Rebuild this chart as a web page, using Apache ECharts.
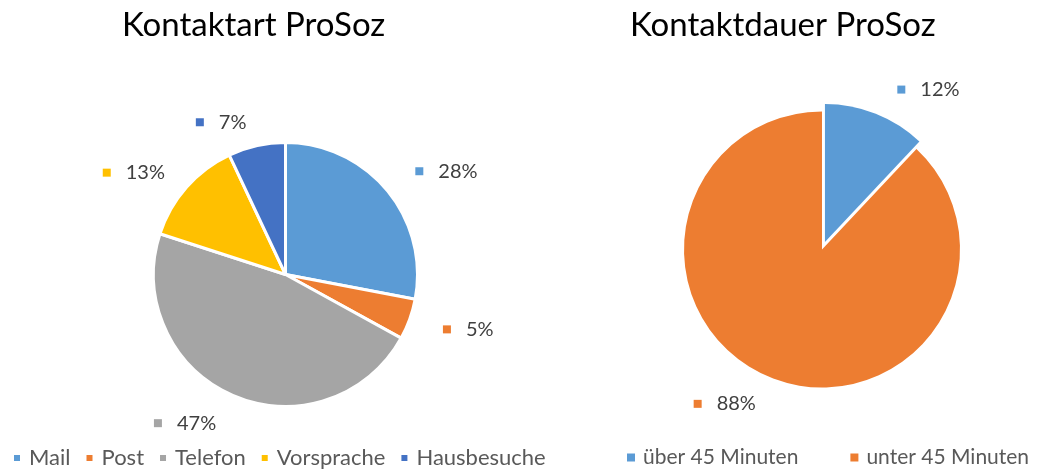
<!DOCTYPE html>
<html>
<head>
<meta charset="utf-8">
<script src="https://cdn.jsdelivr.net/npm/echarts@6/dist/echarts.min.js"></script>
<style>
  html, body { margin: 0; background: #fff; }
  #chart { width: 1038px; height: 470px; }
</style>
</head>
<body>
<div id="chart"></div>
<script>
// Kontaktart ProSoz
const artNames = ['Mail', 'Post', 'Telefon', 'Vorsprache', 'Hausbesuche']
const artValues = [28, 5, 47, 13, 7]
const artColors = ['#5B9BD5', '#ED7D31', '#A5A5A5', '#FFC000', '#4472C4']

// Kontaktdauer ProSoz
const dauerNames = ['über 45 Minuten', 'unter 45 Minuten']
const dauerValues = [12, 88]
const dauerColors = ['#5B9BD5', '#ED7D31']

const font = 'Lato'
const myChart = echarts.init(document.getElementById('chart'))

// how far each label sits from the pie edge
const artLabelLen = [30, 30, 30, 22, 24]
const dauerLabelLen = [26, 28]
const dauerLabelShift = [7, 0]

function labelFor(color) {
  return {
    formatter: p => '{sq|}{v|' + p.value + '%}',
    rich: {
      sq: { width: 8, height: 8, backgroundColor: color },
      v: { fontSize: 20, color: '#404040', fontFamily: font, padding: [0, 0, 0, 15] },
    },
  }
}

const artData = artNames.map((name, i) => ({
  name,
  value: artValues[i],
  itemStyle: { color: artColors[i] },
  label: labelFor(artColors[i]),
  labelLine: { show: false, length: artLabelLen[i], length2: 0 },
}))

const dauerData = dauerNames.map((name, i) => ({
  name,
  value: dauerValues[i],
  selected: i === 0,
  itemStyle: { color: dauerColors[i] },
  label: labelFor(dauerColors[i]),
  labelLine: { show: false, length: dauerLabelLen[i], length2: dauerLabelShift[i] },
}))

const legendBase = {
  top: 442,
  icon: 'rect',
  itemWidth: 8,
  itemHeight: 8,
  selectedMode: false,
}

const titleStyle = { fontSize: 33, fontWeight: 'normal', color: '#000', fontFamily: font }

const option = {
  animation: false,
  textStyle: { fontFamily: font },
  title: [
    { text: 'Kontaktart ProSoz', left: 117, top: 4, textStyle: titleStyle },
    { text: 'Kontaktdauer ProSoz', left: 625, top: 4, textStyle: titleStyle },
  ],
  legend: [
    {
      ...legendBase, left: 7, itemGap: 14, data: artNames,
      textStyle: { fontSize: 22, color: '#595959', fontFamily: font, padding: [0, 0, 0, 3] },
    },
    {
      ...legendBase, left: 622, itemGap: 52, data: dauerNames,
      textStyle: { fontSize: 21, color: '#595959', fontFamily: font, padding: [0, 0, 0, 3] },
    },
  ],
  series: [
    {
      name: 'Kontaktart ProSoz',
      type: 'pie',
      center: [285.5, 274.5],
      radius: 132,
      startAngle: 90,
      clockwise: true,
      avoidLabelOverlap: false,
      itemStyle: { borderColor: '#fff', borderWidth: 3 },
      label: { position: 'outside' },
      emphasis: { scale: false },
      data: artData,
    },
    {
      name: 'Kontaktdauer ProSoz',
      type: 'pie',
      center: [822, 249.5],
      radius: 138,
      startAngle: 90,
      clockwise: true,
      avoidLabelOverlap: false,
      selectedMode: 'single',
      selectedOffset: 8,
      label: { position: 'outside' },
      emphasis: { scale: false },
      data: dauerData,
    },
  ],
}

myChart.setOption(option)
</script>
</body>
</html>
